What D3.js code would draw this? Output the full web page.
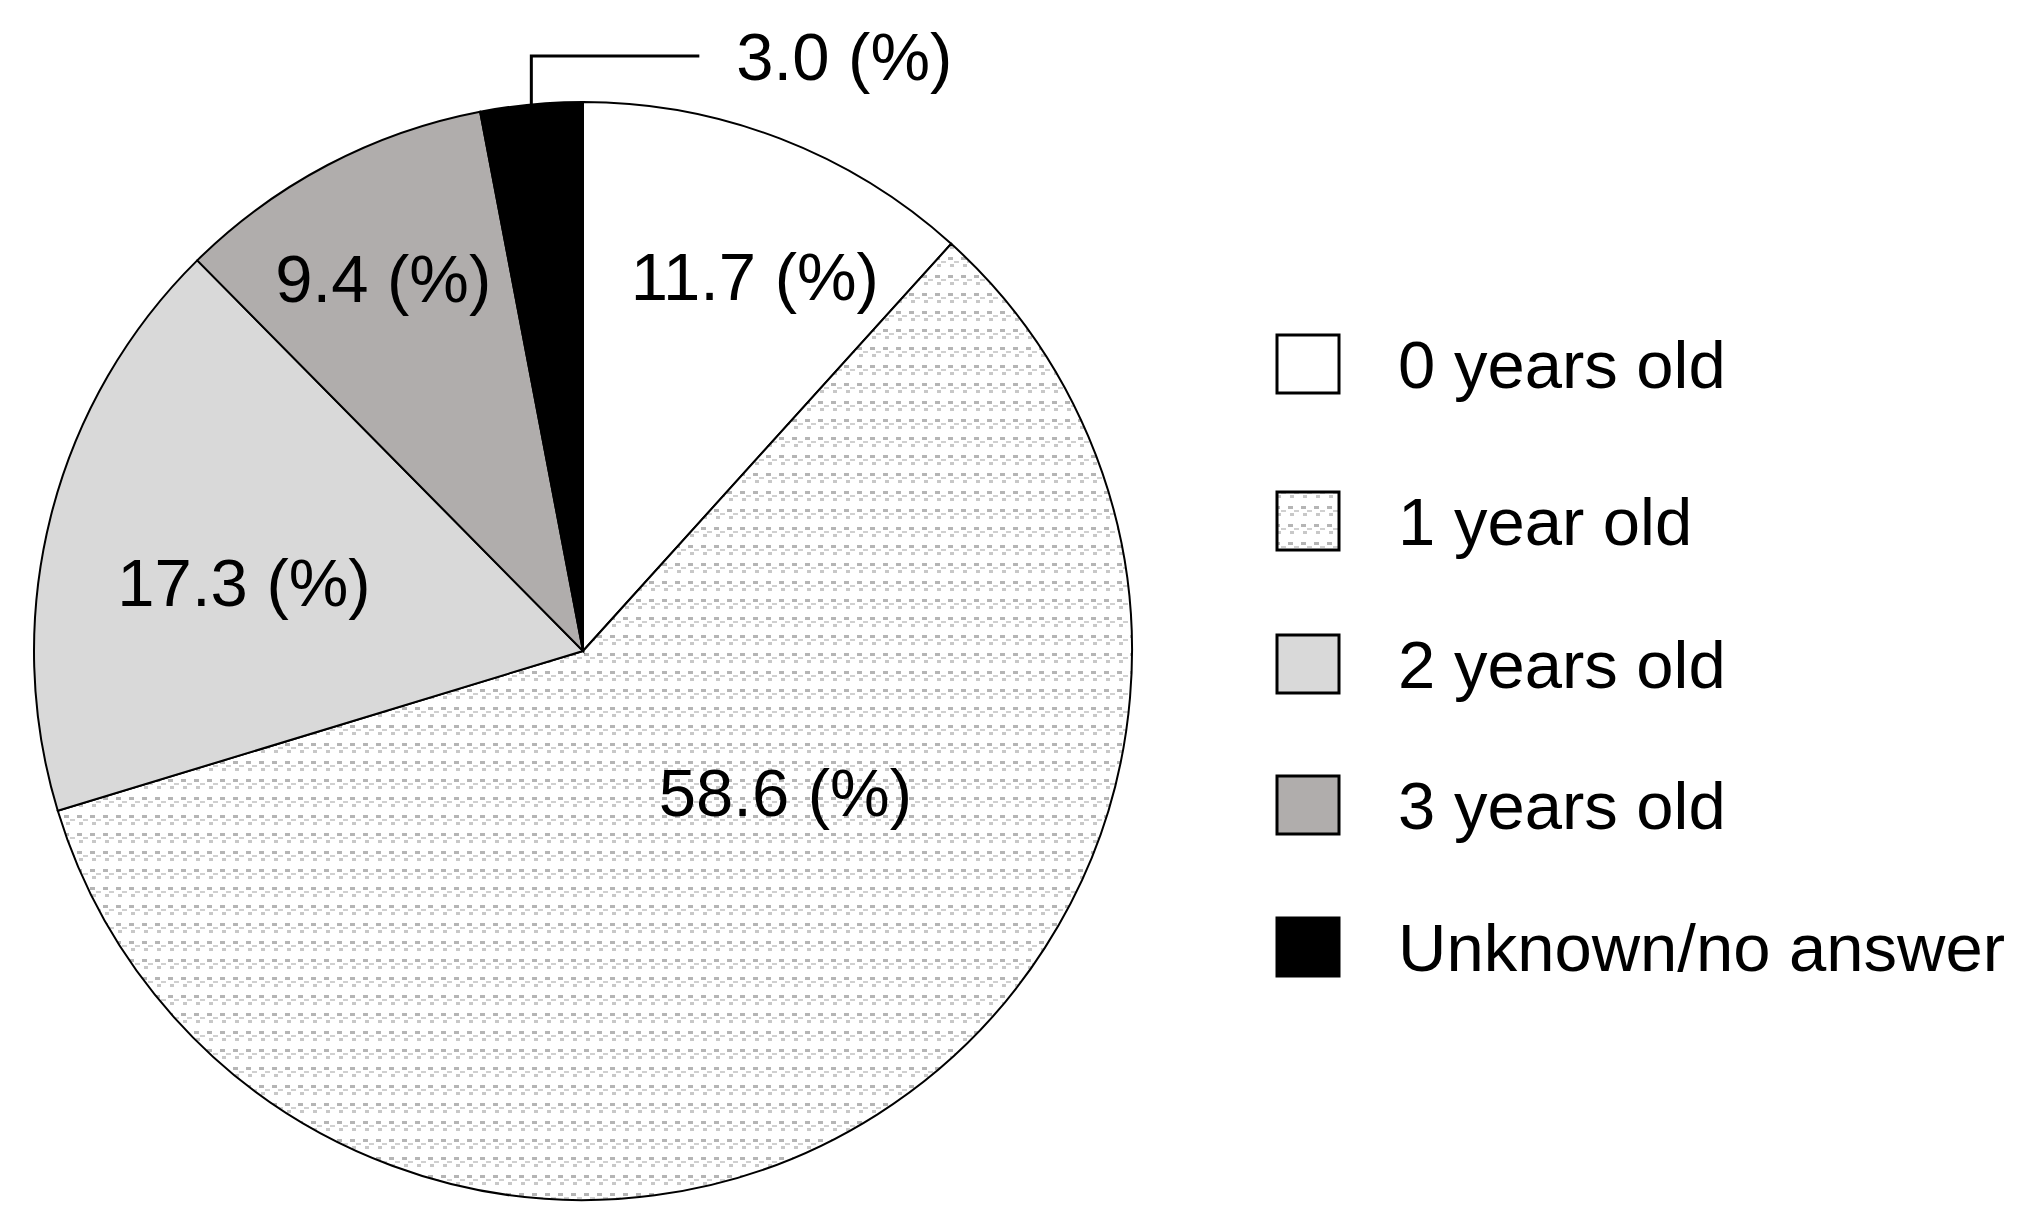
<!DOCTYPE html>
<html><head><meta charset="utf-8">
<script src="https://cdn.jsdelivr.net/npm/d3@7"></script>
<style>body{margin:0;background:#fff}svg{display:block}</style>
</head><body>
<script>
const categories = ["0 years old","1 year old","2 years old","3 years old","Unknown/no answer"];
const values = [11.7, 58.6, 17.3, 9.4, 3.0];
const labels = ["11.7 (%)","58.6 (%)","17.3 (%)","9.4 (%)","3.0 (%)"];

const W=2043,H=1227, cx=583, cy=651, R=549;
const svg=d3.select("body").append("svg").attr("width",W).attr("height",H);
const defs=svg.append("defs");
const pat=defs.append("pattern").attr("id","dots").attr("patternUnits","userSpaceOnUse").attr("width",13).attr("height",18);
pat.append("rect").attr("width",13).attr("height",18).attr("fill","#fff");
pat.append("rect").attr("x",1).attr("y",2).attr("width",5).attr("height",3).attr("fill","#b5b5b5");
pat.append("rect").attr("x",7).attr("y",6).attr("width",5).attr("height",2).attr("fill","#d0d0d0");
pat.append("rect").attr("x",3).attr("y",9).attr("width",4).attr("height",3).attr("fill","#c8c8c8");
const fills=["#ffffff","url(#dots)","#d9d9d9","#b0adac","#000000"];
const color=d3.scaleOrdinal().domain(categories).range(fills);

const pie=d3.pie().sort(null).value(d=>d.v);
const data=pie(categories.map((c,i)=>({c,v:values[i],l:labels[i]})));
const arc=d3.arc().innerRadius(0).outerRadius(R);
const g=svg.append("g").attr("transform",`translate(${cx},${cy})`);
g.selectAll("path").data(data).join("path").attr("d",arc)
  .attr("fill",d=>color(d.data.c)).attr("stroke","#000").attr("stroke-width",2);

const font="'Liberation Sans',Arial,sans-serif";
// label placement: radius fraction and angle offset (deg) from slice middle
const labelR=[0.75,0.45,0.63,0.77];
const labelDA=[3.6,-22.6,0,0];
data.slice(0,4).forEach((d,i)=>{
  const mid=(d.startAngle+d.endAngle)/2;
  let a=mid+labelDA[i]*Math.PI/180;
  if(i===2) a=281.4*Math.PI/180;
  if(i===3) a=331.8*Math.PI/180;
  const rr=R*labelR[i];
  g.append("text").attr("x",Math.sin(a)*rr).attr("y",-Math.cos(a)*rr)
   .attr("text-anchor","middle").attr("dominant-baseline","central")
   .attr("font-family",font).attr("font-size",67).text(d.data.l);
});
const d4=data[4], a4=(d4.startAngle+d4.endAngle)/2;
const px=Math.sin(a4)*R, py=-Math.cos(a4)*R;
g.append("path").attr("d",`M${px},${py}V${-R-46}H${px+168}`).attr("fill","none").attr("stroke","#000").attr("stroke-width",3);
g.append("text").attr("x",px+205).attr("y",-R-46).attr("dominant-baseline","central")
 .attr("font-family",font).attr("font-size",67).text(d4.data.l);

const ly=[364,521,664,805,947];
const lg=svg.append("g");
categories.forEach((c,i)=>{
  lg.append("rect").attr("x",1283-6).attr("y",ly[i]-29).attr("width",62).attr("height",58)
    .attr("fill",color(c)).attr("stroke","#000").attr("stroke-width",3);
  lg.append("text").attr("x",1398).attr("y",ly[i]).attr("dominant-baseline","central")
    .attr("font-family",font).attr("font-size",67).text(c);
});
</script>
</body></html>
